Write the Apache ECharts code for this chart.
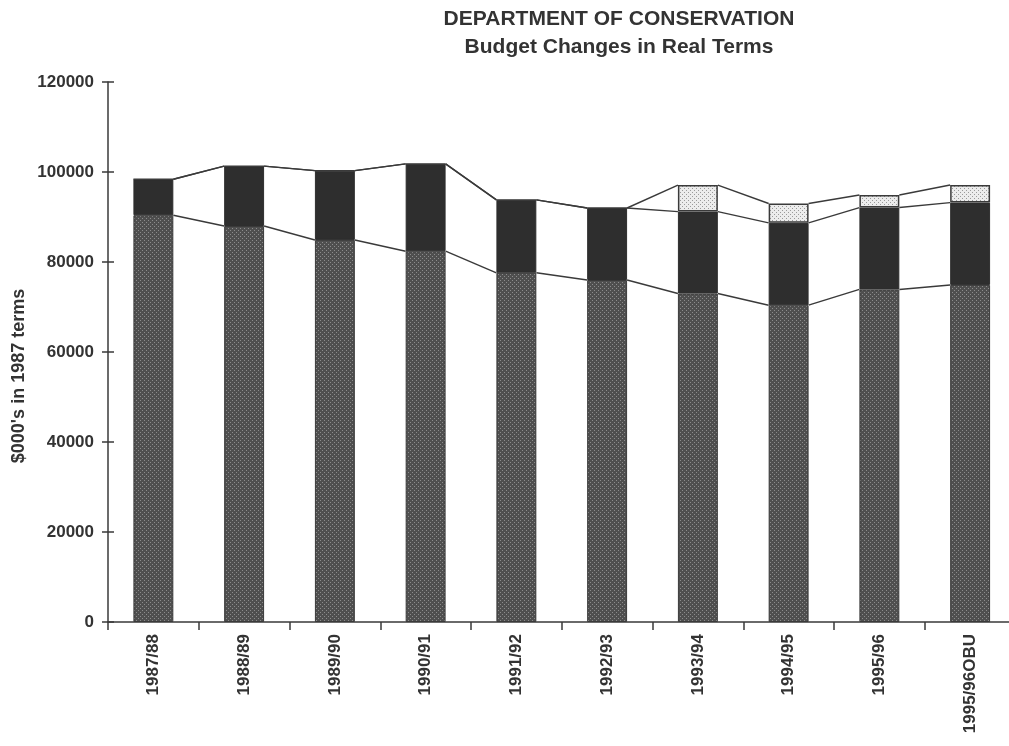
<!DOCTYPE html>
<html>
<head>
<meta charset="utf-8">
<script src="https://cdn.jsdelivr.net/npm/echarts@6/dist/echarts.min.js"></script>
<style>html,body{margin:0;padding:0;background:#fff}#c{width:1009px;height:746px}</style>
</head>
<body>
<div id="c"></div>
<script>
const categories = ['1987/88','1988/89','1989/90','1990/91','1991/92','1992/93','1993/94','1994/95','1995/96','1995/96OBU'];
const baseValues   = [90400, 88000, 84900, 82400, 77600, 76000, 73000, 70400, 73900, 74900];
const middleValues = [8000, 13300, 15400, 19400, 16200, 16000, 18200, 18300, 18200, 18300];
const topValues    = [0, 0, 0, 0, 0, 0, 5900, 4300, 2800, 3900];
const yTicks = [0, 20000, 40000, 60000, 80000, 100000, 120000];
const yAxisName = "$000's in 1987 terms";

function pattern(bg, dot, size) {
  const c = document.createElement('canvas');
  c.width = size; c.height = size;
  const g = c.getContext('2d');
  g.fillStyle = bg; g.fillRect(0, 0, size, size);
  g.fillStyle = dot;
  g.fillRect(0, 0, 1, 1);
  g.fillRect(size / 2, size / 2, 1, 1);
  return { image: c, repeat: 'repeat' };
}

const cumMid = baseValues.map((v, i) => v + middleValues[i]);
const cumTop = cumMid.map((v, i) => v + topValues[i]);
function segs(arr) {
  const out = [];
  for (let i = 0; i < arr.length - 1; i++) out.push([i, arr[i], arr[i + 1]]);
  return out;
}
const BAR_FRAC = 0.44;
function lineSeries(arr) {
  return {
    type: 'custom',
    z: 5,
    data: segs(arr),
    encode: { x: 0, y: 1 },
    renderItem: function (params, api) {
      const i = api.value(0);
      const p0 = api.coord([i, api.value(1)]);
      const p1 = api.coord([i + 1, api.value(2)]);
      const hw = api.size([1, 0])[0] * BAR_FRAC / 2;
      return {
        type: 'line',
        shape: { x1: p0[0] + hw, y1: p0[1], x2: p1[0] - hw, y2: p1[1] },
        style: { stroke: '#3a3a3a', lineWidth: 1.4 }
      };
    }
  };
}

const chart = echarts.init(document.getElementById('c'), null, { renderer: 'canvas' });
const font = 'Liberation Sans, Arial, sans-serif';
chart.setOption({
  animation: false,
  backgroundColor: '#fff',
  title: {
    text: 'DEPARTMENT OF CONSERVATION\nBudget Changes in Real Terms',
    left: 614, top: 0, textAlign: 'center',
    textStyle: { fontFamily: font, fontSize: 21, fontWeight: 'bold', color: '#333', lineHeight: 28 }
  },
  graphic: [{
    type: 'text', x: 19, y: 376, rotation: Math.PI / 2,
    style: { text: yAxisName, fontFamily: font, fontSize: 18, fontWeight: 'bold', fill: '#333',
      align: 'center', verticalAlign: 'middle' }
  }],
  grid: { left: 108, top: 82, width: 907.5, height: 540, outerBoundsMode: 'none', containLabel: false },
  xAxis: {
    type: 'category', data: categories,
    axisLine: { lineStyle: { color: '#3a3a3a', width: 1.5 } },
    axisTick: { show: true, length: 8, lineStyle: { color: '#3a3a3a', width: 1.5 } },
    axisLabel: { rotate: 90, margin: 12, fontFamily: font, fontSize: 17, fontWeight: 'bold', color: '#333', interval: 0 }
  },
  yAxis: [{
    type: 'value', min: 0, max: 120000, interval: 20000,
    axisLine: { show: true, lineStyle: { color: '#3a3a3a', width: 1.5 } },
    axisTick: { show: true, length: 6, lineStyle: { color: '#3a3a3a', width: 1.5 } },
    axisLabel: { margin: 14, fontFamily: font, fontSize: 17, fontWeight: 'bold', color: '#333',
      formatter: v => yTicks.includes(v) ? String(v) : '' },
    splitLine: { show: false }
  }, {
    type: 'value', min: 0, max: 120000, interval: 20000, position: 'left',
    axisLine: { show: false },
    axisTick: { show: true, inside: true, length: 6, lineStyle: { color: '#3a3a3a', width: 1.5 } },
    axisLabel: { show: false }, splitLine: { show: false }
  }],
  series: [
    { type: 'bar', stack: 'b', barWidth: (BAR_FRAC * 100) + '%', data: baseValues,
      itemStyle: { color: pattern('#4f4f4f', '#8c8c8c', 4), borderColor: '#3a3a3a', borderWidth: 1 } },
    { type: 'bar', stack: 'b', data: middleValues,
      itemStyle: { color: '#2e2e2e', borderColor: '#2e2e2e', borderWidth: 1 } },
    { type: 'bar', stack: 'b', data: topValues,
      itemStyle: { color: pattern('#ececec', '#9a9a9a', 4), borderColor: '#3a3a3a', borderWidth: 1.5 } },
    lineSeries(baseValues),
    lineSeries(cumMid),
    lineSeries(cumTop)
  ]
});
</script>
</body>
</html>
